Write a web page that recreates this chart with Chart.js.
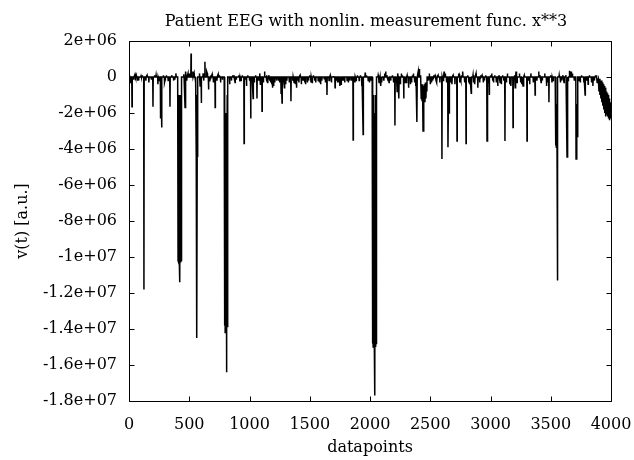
<!DOCTYPE html>
<html>
<head>
<meta charset="utf-8">
<title>Patient EEG</title>
<script src="https://cdn.jsdelivr.net/npm/chart.js@4.4.1/dist/chart.umd.min.js"></script>
<style>
  html, body { margin: 0; padding: 0; background: #fff; }
  canvas { display: block; }
</style>
</head>
<body>
<canvas id="eeg" width="634" height="460"></canvas>
<script>
// v(t) samples as [datapoint, value in units of 1e6], one array per quarter of the record.
// Between listed samples the trace sits on the zero baseline.
const quarter1 = [
  [0, 0.1], [10, -0.3], [25, -1.65], [50, 0.15], [70, -0.2], [110, 0.1],
  [124, -11.8], [150, 0.1], [165, -0.3], [199, -1.65], [225, 0.1], [240, -0.4],
  [262, -2.3], [268, -1.2], [271, -2.8], [295, -0.3], [310, 0.1], [340, -1.65], [370, -0.2], [390, 0.2],
  [404, 0], [407, -10.2], [409, -1], [412, -10.3], [414, -2], [417, -10.1], [419, -1], [423, -11.4],
  [426, -2], [428, -10.3], [430, -1], [433, -10.2], [436, 0],
  [465, -1.7], [472, 0.3], [490, 0.2], [515, 1.3], [540, 0.2], [550, -0.3],
  [556, 0], [558, -4.4], [560, -1], [562, -4.3], [564, -14.5], [566, -4.4], [568, -1], [570, -4.2], [572, 0],
  [590, -0.5], [600, -1.45], [615, 0.2], [630, 0.85], [650, 0.2], [660, -0.7], [680, 0.1], [700, -0.3],
  [715, -1.7], [740, 0.15], [760, -0.3],
  [790, 0], [793, -13.8], [795, -1], [798, -14.2], [800, -2], [803, -14.0], [805, -3], [808, -16.4],
  [810, -2], [813, -14.2], [815, -1], [818, -13.9], [820, 0],
  [835, -0.4], [860, 0.1], [880, -0.3], [930, -0.2], [955, -3.7], [975, -0.5]
];
const quarter2 = [
  [1010, -2.3], [1024, -0.3], [1030, -1.2], [1050, 0.1], [1062, -1.2], [1085, 0.2], [1104, -1.9],
  [1125, 0.3], [1145, -0.2], [1160, 0.1], [1175, -0.3], [1200, -0.5], [1240, -0.2],
  [1262, -0.9], [1266, -0.3], [1270, -1.45], [1300, -0.4], [1344, -1.35], [1370, -0.3], [1390, -0.6],
  [1400, -0.2], [1420, 0.1], [1430, -0.4], [1450, -0.2], [1465, -0.4], [1480, -0.3], [1500, 0.1],
  [1520, -0.3], [1540, -0.2], [1590, -0.4], [1643, -1.0], [1670, 0.1], [1710, -0.6], [1740, -0.3],
  [1760, -0.4], [1780, -0.2], [1830, -0.2], [1860, -3.5], [1885, -0.2], [1932, -0.5], [1943, -3.2],
  [1960, 0.25], [1995, -0.3]
];
const quarter3 = [
  [2018, 0], [2021, -14.8], [2023, -1], [2026, -15], [2028, -2], [2031, -14.9], [2033, -1], [2036, -15],
  [2038, -3], [2041, -17.7], [2043, -2], [2046, -15], [2048, -1], [2051, -14.8], [2054, 0],
  [2075, -0.3], [2090, -0.5], [2130, 0.3], [2150, -0.2], [2207, -2.7], [2225, -0.8], [2240, -1.2],
  [2260, 0.2], [2280, -1.2], [2300, -0.3], [2320, -0.6], [2345, -0.3], [2360, 0.2], [2380, -0.5],
  [2390, -2.5], [2410, 0.45], [2425, -1.2], [2429, -0.4], [2432, -1.3], [2436, -0.4], [2440, -3.0],
  [2444, -0.5], [2448, -1.5], [2452, -0.4], [2456, -1.4], [2460, -0.3], [2464, -1.2], [2468, -0.3], [2472, -0.8],
  [2500, -0.4], [2520, -0.2], [2540, 0.1], [2555, -0.3], [2597, -4.55], [2615, 0.3], [2647, -3.9],
  [2652, -0.5], [2657, -2.0], [2680, -0.4], [2722, -3.55], [2745, -0.3], [2770, 0.3], [2797, -3.7],
  [2820, -0.3], [2840, -0.9], [2870, -0.4], [2895, -0.6], [2920, 0.1], [2940, -0.3], [2971, -3.55], [2990, -1.0]
];
const quarter4 = [
  [3010, 0.2], [3025, -0.3], [3060, -0.5], [3080, -0.3], [3120, -3.55], [3140, 0.2], [3187, -2.8],
  [3205, -0.6], [3212, 0.3], [3250, -0.3], [3270, -0.5], [3303, -3.55], [3325, -0.4], [3370, -1.0],
  [3400, 0.3], [3420, -0.3], [3465, -0.5], [3485, -1.4], [3510, -0.3],
  [3537, 0], [3540, -3.8], [3543, -1], [3546, -3.9], [3549, -1.5], [3552, -3.9], [3555, -11.3], [3558, 0],
  [3580, -0.3], [3600, 0.1], [3635, -4.45], [3655, 0.35], [3670, 0.3], [3710, -4.55], [3716, -1.5],
  [3722, -3.3], [3745, -0.3], [3785, -1.0], [3810, -0.4], [3850, -0.5], [3870, 0.1], [3885, -0.3],
  [3895, -0.1], [3900, -0.8], [3904, -0.1], [3908, -1.0], [3912, -0.2], [3916, -1.2], [3920, -0.2],
  [3924, -1.4], [3928, -0.3], [3932, -1.6], [3936, -0.4], [3940, -1.8], [3944, -0.5], [3948, -2.0],
  [3952, -0.6], [3956, -2.2], [3960, -0.8], [3964, -2.1], [3968, -0.9], [3972, -2.2], [3976, -1.0],
  [3980, -2.3], [3984, -1.2], [3988, -2.4], [3992, -1.4], [3996, -2.3], [4000, -2.0]
];
// small wiggles that keep the baseline band dense
const ripple = [
  [40, -0.15], [60, 0.1], [80, -0.2], [100, 0.05], [140, -0.2], [185, -0.15], [212, 0.1], [250, -0.2],
  [285, 0.1], [300, -0.15], [325, -0.2], [355, 0.1], [380, -0.15], [455, 0.15], [480, -0.2], [500, 0.2],
  [530, 0.3], [585, 0.2], [620, -0.2], [645, 0.3], [670, -0.25], [690, 0.15], [730, -0.2], [750, 0.1],
  [775, -0.15], [850, -0.2], [870, 0.1], [890, -0.15], [910, 0.1], [920, -0.25], [940, 0.1], [965, -0.15],
  [985, 0.1], [1000, -0.2], [1040, -0.3], [1075, -0.2], [1090, -0.4], [1115, -0.3], [1140, 0.1], [1150, -0.3],
  [1168, -0.2], [1185, -0.4], [1192, -0.6], [1210, -0.3], [1225, -0.2], [1250, -0.3], [1285, -0.3], [1290, -0.6],
  [1310, -0.2], [1330, -0.3], [1360, -0.2], [1380, -0.4], [1410, -0.3], [1440, -0.2], [1458, -0.3], [1490, -0.2],
  [1510, -0.3], [1530, 0.1], [1550, -0.3], [1570, -0.2], [1580, -0.3], [1600, -0.2], [1620, -0.1], [1630, -0.3],
  [1660, -0.2], [1680, -0.3], [1695, 0.05], [1720, -0.2], [1730, -0.3], [1750, -0.5], [1770, -0.2], [1790, -0.3],
  [1810, -0.2], [1820, -0.3], [1845, -0.2], [1875, -0.3], [1895, 0.1], [1910, -0.2], [1920, 0.1], [1970, 0.1],
  [1985, -0.2], [2005, -0.2], [2068, 0.1], [2082, -0.2], [2098, -0.3], [2115, -0.2], [2122, 0.2], [2140, 0.1],
  [2158, -0.3], [2172, -0.2], [2185, 0.1], [2195, -0.3], [2218, -0.3], [2232, 0.2], [2252, -0.4], [2268, 0.1],
  [2292, -0.3], [2308, 0.1], [2335, -0.4], [2352, 0.1], [2370, -0.3], [2400, 0.3], [2418, 0.1], [2485, -0.2],
  [2492, 0.2], [2510, -0.3], [2530, 0.1], [2548, -0.2], [2565, 0.1], [2580, -0.3], [2606, -0.2], [2625, 0.2],
  [2635, -0.3], [2670, -0.3], [2690, 0.1], [2705, -0.4], [2735, 0.2], [2755, -0.2], [2762, 0.1], [2785, -0.3],
  [2810, 0.1], [2828, -0.4], [2855, 0.1], [2862, -0.3], [2880, 0.2], [2910, -0.3], [2930, 0.1], [2950, -0.2],
  [2960, 0.1], [2980, -0.3], [3000, 0.1], [3018, -0.2], [3035, 0.1], [3048, -0.3], [3070, 0.1], [3090, -0.4],
  [3100, 0.1], [3110, -0.2], [3132, -0.3], [3160, -0.4], [3170, -0.5], [3198, 0.1], [3220, -0.3], [3240, 0.2],
  [3260, -0.4], [3280, 0.1], [3315, -0.2], [3335, 0.2], [3355, -0.3], [3385, -0.2], [3410, 0.1], [3430, -0.2],
  [3450, 0.2], [3475, -0.3], [3498, 0.1], [3520, -0.2], [3570, 0.1], [3590, -0.2], [3610, -0.3], [3625, 0.1],
  [3645, -0.2], [3662, 0.3], [3680, 0.2], [3695, -0.2], [3735, -0.2], [3755, 0.1], [3775, -0.3], [3798, -0.2],
  [3820, 0.1], [3838, -0.3], [3862, -0.2], [3878, 0.1], [3890, -0.2]
];

const xTicks = [0, 500, 1000, 1500, 2000, 2500, 3000, 3500, 4000];
const yTicks = [2e6, 0, -2e6, -4e6, -6e6, -8e6, -1e7, -1.2e7, -1.4e7, -1.6e7, -1.8e7];

const FONT = 'DejaVu Serif';
const TITLE = 'Patient EEG with nonlin. measurement func. x**3';

// samples further apart than a few datapoints are joined through the baseline,
// so every event shows up as a narrow impulse
function buildTrace(samples) {
  const out = [];
  samples.forEach(([x, v], i) => {
    const prev = samples[i - 1];
    if (prev && x - prev[0] > 6) {
      if (prev[1] !== 0) out.push({ x: prev[0] + 2, y: 0 });
      if (v !== 0) out.push({ x: x - 2, y: 0 });
    }
    out.push({ x, y: v * 1e6 });
  });
  return out;
}

const points = buildTrace(
  [...quarter1, ...quarter2, ...quarter3, ...quarter4, ...ripple].sort((a, b) => a[0] - b[0])
);

// gnuplot-style %g labels: 2e+06, -1.2e+07
function expLabel(value) {
  if (value === 0) return '0';
  return value.toExponential().replace(/e([+-])(\d)$/, (m, s, d) => 'e' + s + '0' + d);
}

// box around the plot with inward ticks on all four sides, plus the title
const frame = {
  id: 'frame',
  afterDraw(chart) {
    const { ctx, chartArea: a, scales } = chart;
    const L = Math.round(a.left) + 0.5, R = Math.round(a.right) + 0.5;
    const T = Math.round(a.top) + 0.5, B = Math.round(a.bottom) + 0.5;
    const len = 5;
    ctx.save();
    ctx.strokeStyle = '#000';
    ctx.lineWidth = 1;
    ctx.beginPath();
    ctx.rect(L, T, R - L, B - T);
    xTicks.forEach((t) => {
      const px = Math.round(scales.x.getPixelForValue(t)) + 0.5;
      ctx.moveTo(px, B); ctx.lineTo(px, B - len);
      ctx.moveTo(px, T); ctx.lineTo(px, T + len);
    });
    yTicks.forEach((t) => {
      const py = Math.round(scales.y.getPixelForValue(t)) + 0.5;
      ctx.moveTo(L, py); ctx.lineTo(L + len, py);
      ctx.moveTo(R, py); ctx.lineTo(R - len, py);
    });
    ctx.stroke();

    ctx.fillStyle = '#000';
    ctx.font = '16px "' + FONT + '"';
    ctx.textAlign = 'center';
    ctx.textBaseline = 'middle';
    ctx.fillText(TITLE, (a.left + a.right) / 2 - 4, 22);
    ctx.restore();
  }
};

new Chart(document.getElementById('eeg'), {
  type: 'line',
  data: {
    datasets: [{
      data: points,
      borderColor: '#000',
      borderWidth: 1.5,
      pointRadius: 0,
      tension: 0,
      fill: false,
    }],
  },
  options: {
    responsive: false,
    animation: false,
    devicePixelRatio: 1,
    layout: { padding: { top: 41, right: 23, bottom: 0, left: 0 } },
    plugins: {
      legend: { display: false },
      tooltip: { enabled: false },
    },
    scales: {
      x: {
        type: 'linear',
        min: 0,
        max: 4000,
        afterBuildTicks: (scale) => { scale.ticks = xTicks.map((value) => ({ value })); },
        afterFit: (scale) => {
          scale.height = 59;
          scale.paddingLeft = 0;
          scale.paddingRight = 0;
        },
        grid: { display: false, drawTicks: false },
        border: { display: false },
        ticks: {
          color: '#000',
          padding: 14,
          maxRotation: 0,
          font: { family: FONT, size: 16 },
          callback: (value) => String(value),
        },
        title: {
          display: true,
          text: 'datapoints',
          color: '#000',
          font: { family: FONT, size: 16 },
          padding: { top: 0, bottom: 3 },
        },
      },
      y: {
        min: -1.8e7,
        max: 2e6,
        afterBuildTicks: (scale) => { scale.ticks = yTicks.map((value) => ({ value })); },
        afterFit: (scale) => { scale.width = 129; },
        grid: { display: false, drawTicks: false },
        border: { display: false },
        ticks: {
          color: '#000',
          padding: 12,
          font: { family: FONT, size: 16 },
          callback: (value) => expLabel(value),
        },
        title: {
          display: true,
          text: 'v(t) [a.u.]',
          color: '#000',
          font: { family: FONT, size: 16 },
          padding: { top: 13, bottom: 0 },
        },
      },
    },
  },
  plugins: [frame],
});
</script>
</body>
</html>
